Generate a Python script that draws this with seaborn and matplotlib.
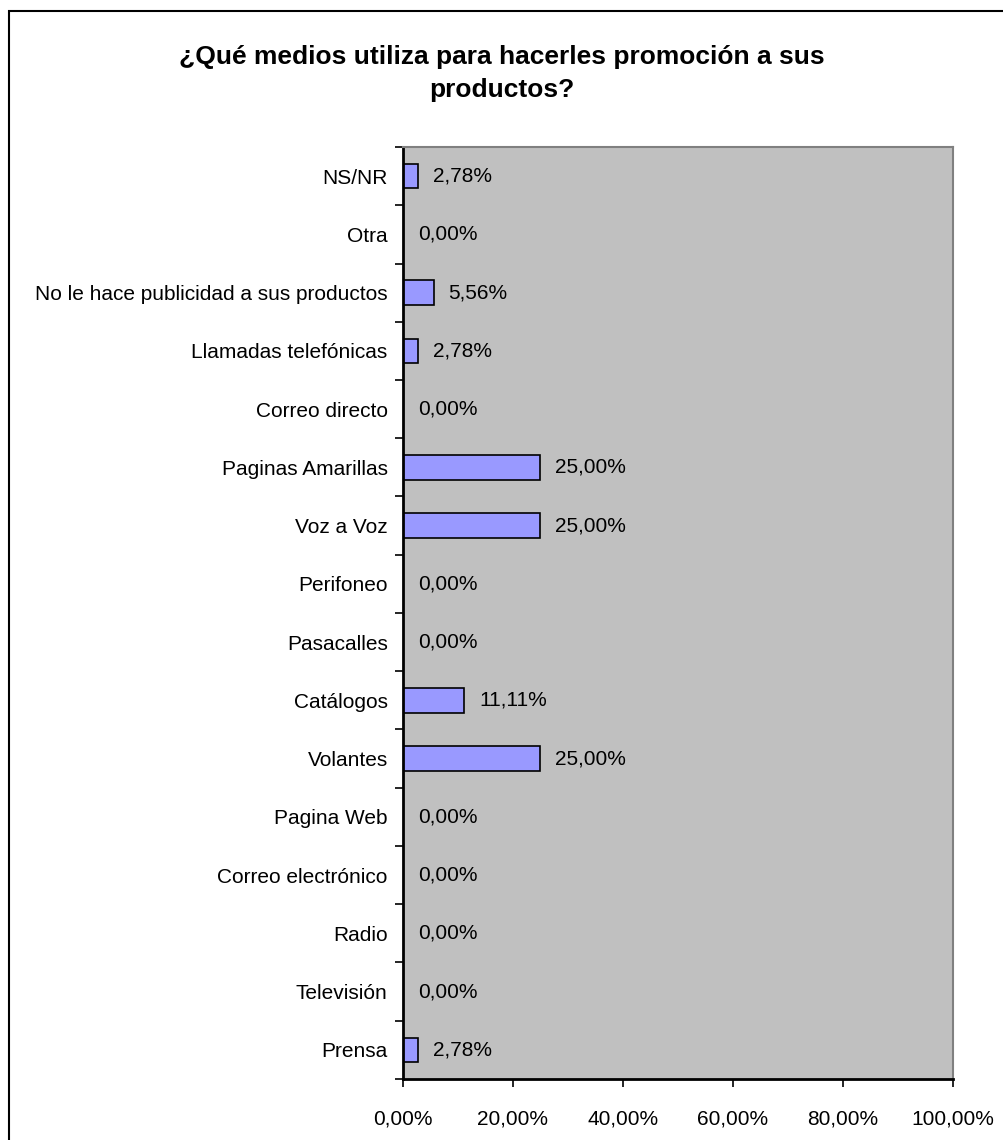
import matplotlib
matplotlib.use("Agg")
import matplotlib.pyplot as plt
import matplotlib.patches as mpatches
from matplotlib.ticker import FixedLocator, FuncFormatter
import seaborn as sns
import pandas as pd
import numpy as np

categories = [
    "NS/NR", "Otra", "No le hace publicidad a sus productos",
    "Llamadas telefónicas", "Correo directo", "Paginas Amarillas",
    "Voz a Voz", "Perifoneo", "Pasacalles", "Catálogos", "Volantes",
    "Pagina Web", "Correo electrónico", "Radio", "Televisión", "Prensa",
]
values = [2.78, 0.00, 5.56, 2.78, 0.00, 25.00, 25.00, 0.00, 0.00,
          11.11, 25.00, 0.00, 0.00, 0.00, 0.00, 2.78]
x_ticks = [0, 20, 40, 60, 80, 100]

df = pd.DataFrame({"medio": categories, "pct": values})

sns.set_theme(style="white")
plt.rcParams["font.family"] = ["Liberation Sans", "DejaVu Sans"]


def pct_label(v):
    return f"{v:.2f}%".replace(".", ",")


fig = plt.figure(figsize=(10.04, 11.4), dpi=100)
ax = fig.add_axes([403 / 1004, 1 - 1079 / 1140, 550 / 1004, 932 / 1140])
ax.set_facecolor("#C0C0C0")

sns.barplot(data=df, x="pct", y="medio", order=categories, orient="h",
            color="#9999FF", edgecolor="black", linewidth=1.2, width=0.42,
            saturation=1, ax=ax)

ax.set_xlim(0, 100)
ax.set_ylim(len(categories) - 0.5, -0.5)
ax.xaxis.set_major_locator(FixedLocator(x_ticks))
ax.xaxis.set_major_formatter(FuncFormatter(lambda v, p: pct_label(v)))
ax.tick_params(axis="x", direction="out", length=6, width=1.2, color="black",
               labelsize=15, labelcolor="black", pad=16, bottom=True)

# category labels at the bar centres, tick marks between categories
ax.set_yticks(np.arange(len(categories)))
ax.set_yticklabels(categories)
ax.tick_params(axis="y", which="major", length=0, labelsize=15,
               labelcolor="black", pad=11)
ax.set_yticks(np.arange(len(categories) + 1) - 0.5, minor=True)
ax.tick_params(axis="y", which="minor", direction="out", length=6, width=1.2,
               color="black", left=True)

ax.set_xlabel("")
ax.set_ylabel("")

for s in ("left", "bottom"):
    ax.spines[s].set_color("black")
    ax.spines[s].set_linewidth(2)
for s in ("top", "right"):
    ax.spines[s].set_color("#808080")
    ax.spines[s].set_linewidth(1.5)

for i, v in enumerate(values):
    ax.annotate(pct_label(v), xy=(v, i), xytext=(15, 0),
                textcoords="offset pixels",
                va="center", ha="left", fontsize=15, color="black")

fig.text(0.5, 1 - 57 / 1140, "¿Qué medios utiliza para hacerles promoción a sus",
         ha="center", va="center", fontsize=19, fontweight="bold", color="black")
fig.text(0.5, 1 - 90 / 1140, "productos?",
         ha="center", va="center", fontsize=19, fontweight="bold", color="black")

# chart frame
fig.patches.append(mpatches.Rectangle((9 / 1004, -0.05), 1.2, 1 - 11 / 1140 + 0.05,
                                      transform=fig.transFigure, fill=False,
                                      edgecolor="black", linewidth=1.5))

fig.savefig("out.png", dpi=100, facecolor="white")
